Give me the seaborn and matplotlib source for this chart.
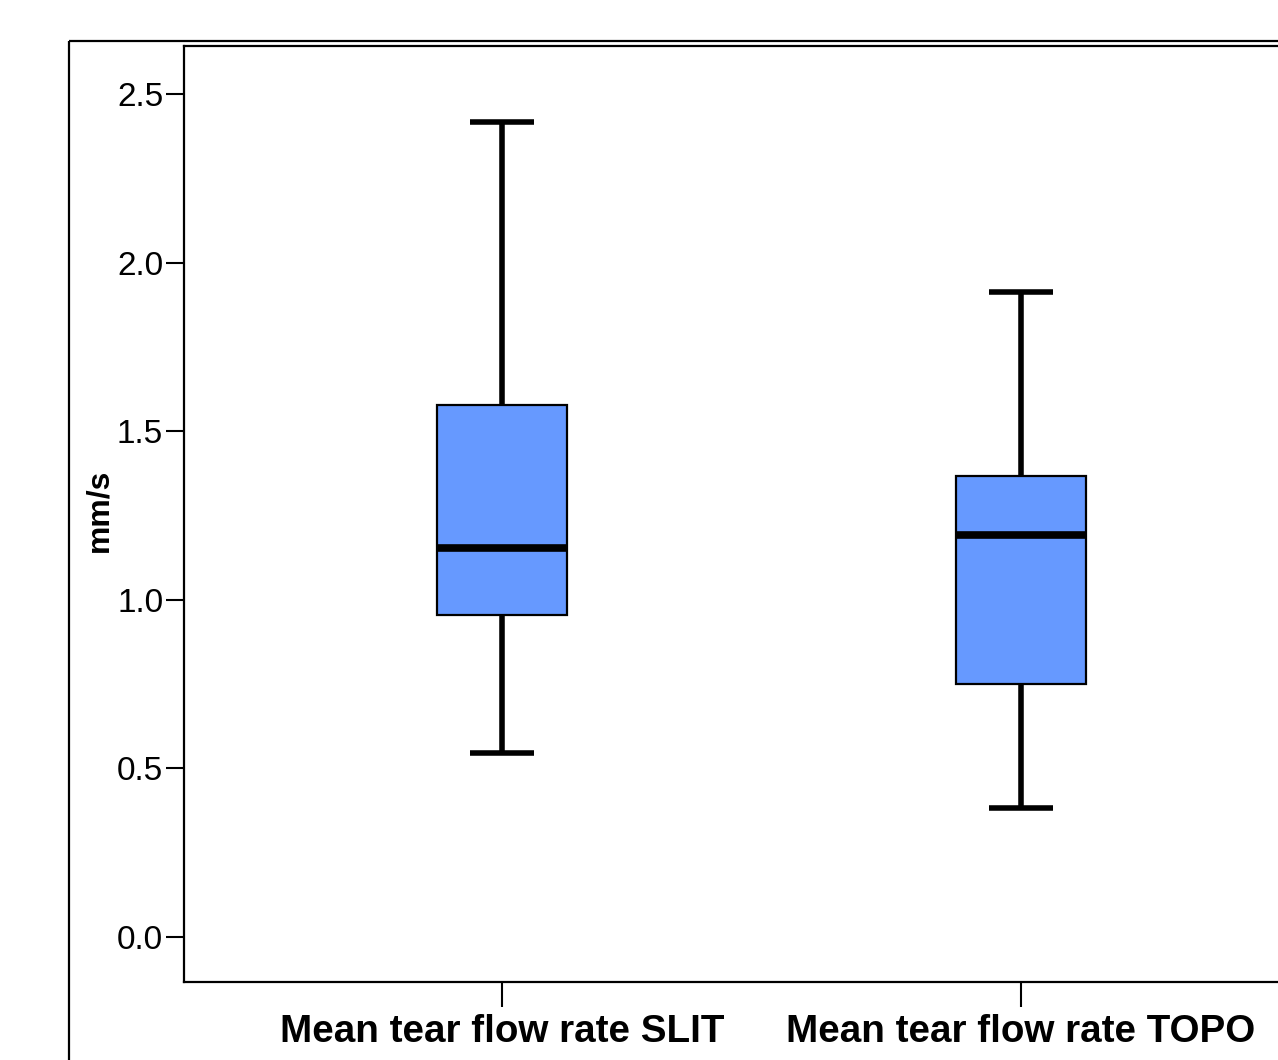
import numpy as np
import pandas as pd
import matplotlib
matplotlib.use("Agg")
import matplotlib.pyplot as plt
from matplotlib.lines import Line2D
import seaborn as sns

# Data (five-number summaries)
categories = ["Mean tear flow rate SLIT", "Mean tear flow rate TOPO"]
slit_values = [0.546, 0.955, 1.154, 1.578, 2.417]
topo_values = [0.383, 0.750, 1.192, 1.367, 1.913]
y_ticks = [0.0, 0.5, 1.0, 1.5, 2.0, 2.5]
y_label = "mm/s"

df = pd.DataFrame({
    "group": [categories[0]] * len(slit_values) + [categories[1]] * len(topo_values),
    "value": slit_values + topo_values,
})

sns.set_style("white")
plt.rcParams["font.family"] = ["Liberation Sans", "DejaVu Sans"]
plt.rcParams["lines.solid_capstyle"] = "butt"
plt.rcParams["text.color"] = "black"
plt.rcParams["axes.labelcolor"] = "black"

W, H = 1278, 1060
fig = plt.figure(figsize=(W / 100, H / 100), dpi=100)

left = 184 / W
bottom = 1 - 982 / H
top = 1 - 46 / H
ax = fig.add_axes([left, bottom, (1339 - 184) / W, top - bottom])

sns.boxplot(data=df, x="group", y="value", order=categories, ax=ax,
            width=0.25, whis=(0, 100), color="#6699FF", saturation=1,
            boxprops=dict(edgecolor="black", linewidth=1.6, facecolor="#6699FF"),
            whiskerprops=dict(color="black", linewidth=4, solid_capstyle="butt"),
            capprops=dict(color="black", linewidth=4, solid_capstyle="butt"),
            medianprops=dict(color="black", linewidth=5.5, solid_capstyle="butt"),
            showfliers=False)

ax.set_xlim(-0.613, 1.613)
ax.set_ylim(-0.133, 2.642)
ax.set_yticks(y_ticks)
ax.set_yticklabels([f"{v:.1f}" for v in y_ticks], fontsize=24)
ax.set_xticks([0, 1])
ax.set_xticklabels(categories, fontsize=27.8, fontweight="bold")
ax.set_xlabel("")
ax.set_ylabel(y_label, fontsize=23, fontweight="bold", color="black")
ax.yaxis.set_label_coords(-0.060, 0.504)
ax.tick_params(axis="y", direction="out", length=13, width=1.5, pad=2, left=True, colors="black")
ax.tick_params(axis="x", direction="out", length=18, width=1.5, pad=5, bottom=True, colors="black")
for s in ax.spines.values():
    s.set_linewidth(1.6)
    s.set_color("black")
    s.set_visible(True)

# outer frame (left and top edges visible)
x0 = 68.5 / W
y0 = 1 - 40.5 / H
fig.add_artist(Line2D([x0, x0], [y0, -0.01], transform=fig.transFigure, color="black", linewidth=1.6))
fig.add_artist(Line2D([x0, 1.01], [y0, y0], transform=fig.transFigure, color="black", linewidth=1.6))

fig.savefig("out.png", dpi=100)
